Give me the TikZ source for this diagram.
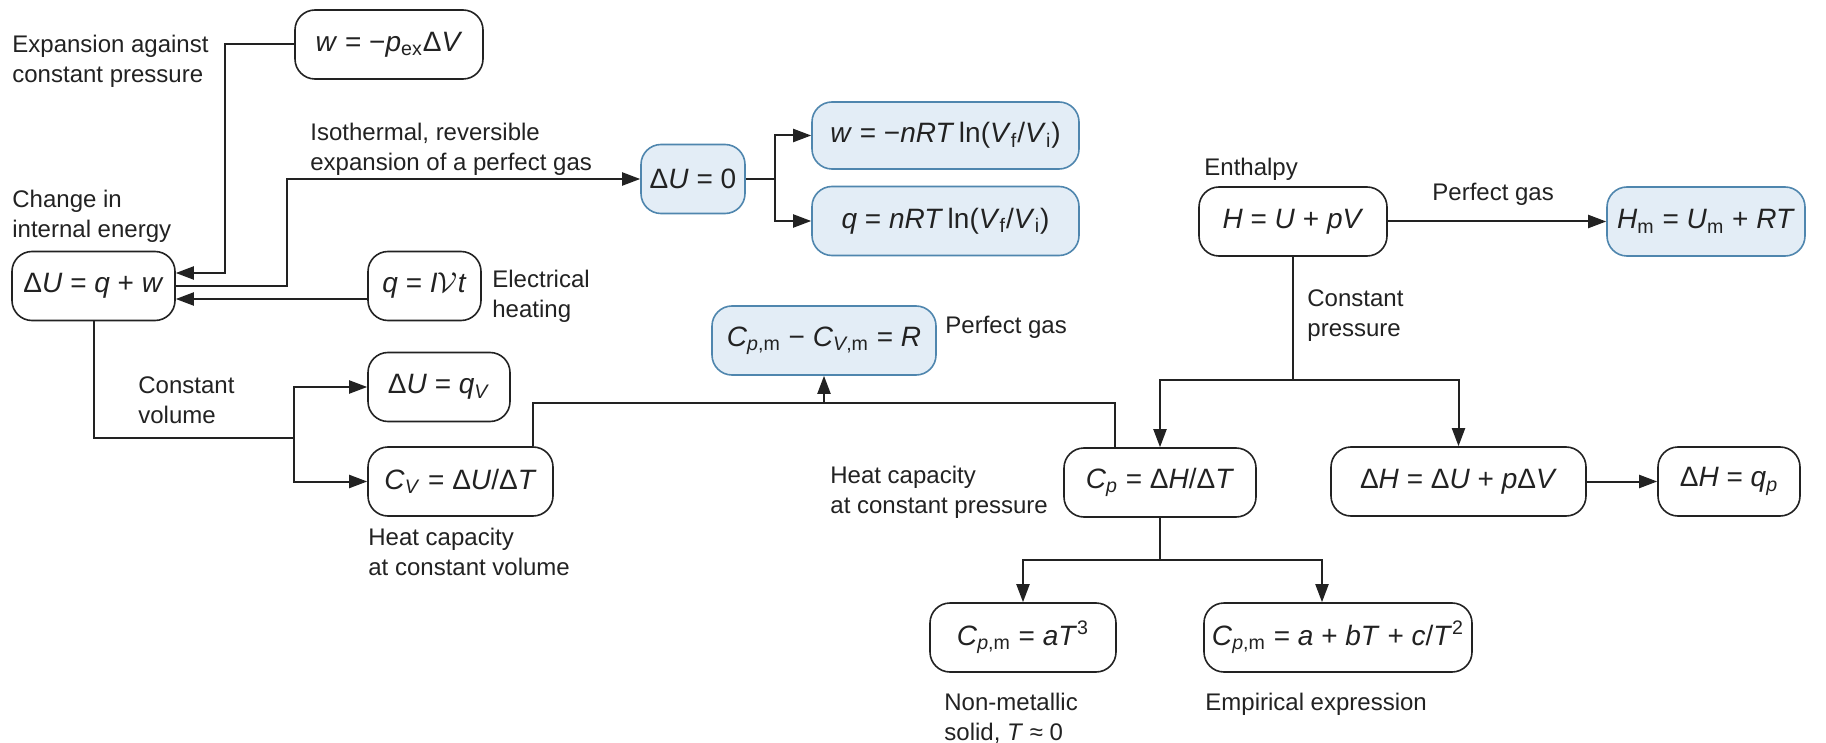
\documentclass[tikz,border=0pt]{standalone}
\usepackage{fontspec}
\setmainfont{Liberation Sans}
\usetikzlibrary{arrows.meta,calc}
\definecolor{bfill}{HTML}{E3EDF6}
\definecolor{bdraw}{HTML}{4F86AE}
\definecolor{ink}{HTML}{222222}
\newcommand\iv[1]{\textit{#1}}
\newcommand\sbs[1]{\textsubscript{#1}}
\tikzset{
 box/.style={draw=ink, line width=0.8pt, rounded corners=10pt, fill=white, minimum height=34.5pt, inner sep=0pt, font=\fontsize{14}{17}\selectfont, text=ink},
 bbox/.style={box, draw=bdraw, fill=bfill},
 lbl/.style={anchor=north west, inner sep=0pt, align=left, font=\fontsize{12}{15}\selectfont, text=ink},
 con/.style={line width=1pt, draw=ink},
 arr/.style={con, -{Triangle[length=9pt,width=6.5pt]}},
}
\begin{document}
\begin{tikzpicture}[x=0.5pt,y=-0.5pt]
\fill[white] (0,0) rectangle (1826,743);
\useasboundingbox (0,0) rectangle (1826,743);

% boxes
\node[box, minimum width=94pt] (w1) at (389,44.5) {\iv{w} = −\iv{p}\sbs{ex}Δ\iv{V}};
\node[box, minimum width=81.5pt] (dU) at (93.5,286) {Δ\iv{U} = \iv{q} + \iv{w}};
\node[box, minimum width=56.5pt] (qe) at (424.5,286) {\iv{q} = \iv{I}$\mathcal{V}$\iv{t}};
\node[bbox, minimum width=52pt] (dU0) at (693,179) {Δ\iv{U} = 0};
\node[bbox, minimum width=133.5pt, minimum height=33.5pt] (wr) at (945.5,135.5) {\iv{w} = −\iv{nRT}\,ln(\iv{V}\sbs{f}/\iv{V}\sbs{i})};
\node[bbox, minimum width=133.5pt] (qr) at (945.5,221) {\iv{q} = \iv{nRT}\,ln(\iv{V}\sbs{f}/\iv{V}\sbs{i})};
\node[box, minimum width=94pt] (H) at (1293,221.5) {\iv{H} = \iv{U} + \iv{pV}};
\node[bbox, minimum width=99pt] (Hm) at (1706,221.5) {\iv{H}\sbs{m} = \iv{U}\sbs{m} + \iv{RT}};
\node[box, minimum width=71pt] (dUqV) at (439,387) {Δ\iv{U} = \iv{q}\sbs{\iv{V}}};
\node[box, minimum width=92.5pt] (CV) at (460.5,481.5) {\iv{C}\sbs{\iv{V}} = Δ\iv{U}/Δ\iv{T}};
\node[bbox, minimum width=112pt] (Cd) at (824,340.5) {\iv{C}\sbs{\iv{p},m} − \iv{C}\sbs{\iv{V},m} = \iv{R}};
\node[box, minimum width=96pt] (Cp) at (1160,482.5) {\iv{C}\sbs{\iv{p}} = Δ\iv{H}/Δ\iv{T}};
\node[box, minimum width=127.5pt] (dH) at (1458.5,481.5) {Δ\iv{H} = Δ\iv{U} + \iv{p}Δ\iv{V}};
\node[box, minimum width=71pt] (dHq) at (1729,481.5) {Δ\iv{H} = \iv{q}\sbs{\iv{p}}};
\node[box, minimum width=93pt] (Ca) at (1023,637.5) {\iv{C}\sbs{\iv{p},m} = \iv{aT}\textsuperscript{3}};
\node[box, minimum width=134pt] (Cb) at (1338,637.5) {\iv{C}\sbs{\iv{p},m} = \iv{a} + \iv{bT} + \iv{c}/\iv{T}\textsuperscript{2}};

% labels
\node[lbl] (l1) at (12,34.5) {Expansion against\\constant pressure};
\node[lbl] (l2) at (310,122.5) {Isothermal, reversible\\expansion of a perfect gas};
\node[lbl] (l3) at (12,189.5) {Change in\\internal energy};
\node[lbl] (l4) at (492,269.5) {Electrical\\heating};
\node[lbl] (l5) at (138,376.5) {Constant\\volume};
\node[lbl] (l6) at (368,527.5) {Heat capacity\\at constant volume};
\node[lbl] (l7) at (945,315.5) {Perfect gas};
\node[lbl] (l8) at (830,465.5) {Heat capacity\\at constant pressure};
\node[lbl] (l9) at (1204,157.5) {Enthalpy};
\node[lbl] (l10) at (1432,182.5) {Perfect gas};
\node[lbl] (l11) at (1307,289.5) {Constant\\pressure};
\node[lbl] (l12) at (944,692.5) {Non-metallic\\solid, \iv{T} ≈ 0};
\node[lbl] (l13) at (1205,692.5) {Empirical expression};

% connectors
\coordinate (j1) at (225,273);
\draw[arr] (w1.west) -| (j1) -- (j1 -| dU.east);
\coordinate (j2) at (287,179);
\draw[arr] (dU.east) -| (j2) -- (dU0.west);
\draw[arr] ($(qe.west)+(0,13)$) -- ($(dU.east)+(0,13)$);

\coordinate (j3) at (775,179);
\draw[con] (dU0.east) -- (j3);
\draw[arr] (j3) |- (wr.west);
\draw[arr] (j3) |- (qr.west);

\draw[arr] (H.east) -- (Hm.west);
\coordinate (j4) at (1293,380);
\draw[con] (H.south) -- (j4);
\draw[arr] (j4) -| (Cp.north);
\draw[arr] (j4) -| (dH.north);
\draw[arr] (dH.east) -- (dHq.west);

\coordinate (j6) at (294,438);
\draw[con] (dU.south) |- (j6);
\draw[arr] (j6) |- (dUqV.west);
\draw[arr] (j6) |- (CV.west);

\coordinate (k1) at (533,403);
\coordinate (k2) at (1115,403);
\draw[con] (k1 |- CV.north) -- (k1) -- (k2) -- (k2 |- Cp.north);
\draw[arr] (Cd.south |- k1) -- (Cd.south);

\coordinate (j7) at (1160,560);
\coordinate (j8) at (1322,560);
\draw[con] (Cp.south) -- (j7);
\draw[arr] (j7) -| (Ca.north);
\draw[arr] (j7) -- (j8) -- (j8 |- Cb.north);
\end{tikzpicture}
\end{document}
